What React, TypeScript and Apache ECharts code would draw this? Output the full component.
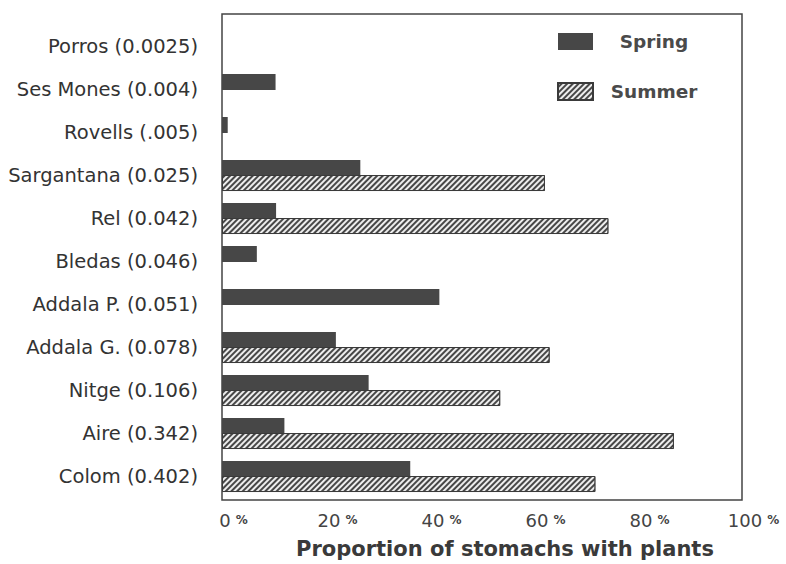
import React, { useEffect, useRef } from "react";
import * as echarts from "echarts";

const categories = [
  "Porros (0.0025)",
  "Ses Mones (0.004)",
  "Rovells (.005)",
  "Sargantana (0.025)",
  "Rel (0.042)",
  "Bledas (0.046)",
  "Addala P. (0.051)",
  "Addala G. (0.078)",
  "Nitge (0.106)",
  "Aire (0.342)",
  "Colom (0.402)",
];
const spring: (number | null)[] = [null, 10.3, 1.1, 26.6, 10.4, 6.7, 41.8, 21.9, 28.2, 12.0, 36.2];
const summer: (number | null)[] = [null, null, null, 62.1, 74.3, null, null, 63.0, 53.5, 86.9, 71.8];
const xTicks = [0, 20, 40, 60, 80, 100];
const seriesNames = ["Spring", "Summer"];
const xTitle = "Proportion of stomachs with plants";

const FONT = "DejaVu Sans";

export default function App() {
  const ref = useRef<HTMLDivElement>(null);
  useEffect(() => {
    document.body.style.margin = "0";
    const chart = echarts.init(ref.current!, null, { renderer: "svg" });
    const hatch = {
      symbol: "rect",
      symbolSize: 1,
      dashArrayX: [1, 0],
      dashArrayY: [1.5, 2],
      rotation: -Math.PI / 4,
      color: "rgba(255,255,255,0.9)",
    };
    chart.setOption({
      animation: false,
      backgroundColor: "#fff",
      textStyle: { fontFamily: FONT },
      grid: { left: 222, right: 44, top: 25, bottom: 54, containLabel: false },
      legend: {
        data: seriesNames,
        orient: "vertical",
        left: 557,
        top: 32,
        padding: 0,
        icon: "rect",
        itemWidth: 35,
        itemHeight: 17,
        itemGap: 31,
        selectedMode: false,
        formatter: "{a|{name}}",
        textStyle: {
          rich: {
            a: {
              width: 112,
              align: "center",
              fontSize: 18.5,
              fontWeight: "bold",
              color: "#4a4a4a",
              fontFamily: FONT,
              lineHeight: 17,
            },
          },
        },
      },
      xAxis: {
        type: "value",
        min: 0,
        max: 100,
        interval: 20,
        axisLine: { show: false },
        axisTick: { show: false },
        splitLine: { show: false },
        axisLabel: {
          margin: 13,
          formatter: (v: number) => (xTicks.includes(v) ? `{n|${v}}{p|%}` : ""),
          rich: {
            n: { fontSize: 18, color: "#444", fontFamily: FONT, padding: [0, 0, 0, 23] },
            p: { fontSize: 12, fontWeight: "bold", color: "#444", fontFamily: FONT, padding: [0, 0, 0, 5], verticalAlign: "middle" },
          },
        },
        name: xTitle,
        nameLocation: "middle",
        nameGap: 40,
        nameTextStyle: {
          fontSize: 21,
          fontWeight: "bold",
          color: "#3a3a3a",
          fontFamily: FONT,
          padding: [0, 0, 0, 46],
        },
      },
      yAxis: {
        type: "category",
        data: categories,
        inverse: true,
        axisLine: { show: false },
        axisTick: { show: false },
        splitLine: { show: false },
        axisLabel: { margin: 24, fontSize: 19.5, color: "#333", fontFamily: FONT },
      },
      series: [
        {
          name: seriesNames[0],
          type: "bar",
          data: spring,
          barWidth: 16,
          barGap: "-6%",
          itemStyle: { color: "#474747" },
        },
        {
          name: seriesNames[1],
          type: "bar",
          data: summer,
          barWidth: 16,
          itemStyle: { color: "#474747", borderColor: "#3a3a3a", borderWidth: 1, decal: hatch },
        },
      ],
      graphic: [
        {
          type: "rect",
          shape: { x: 222, y: 14, width: 520, height: 486 },
          style: { fill: "none", stroke: "#444", lineWidth: 1.5 },
          silent: true,
        },
      ],
    });
    return () => chart.dispose();
  }, []);
  return <div ref={ref} style={{ position: "fixed", left: 0, top: 0, width: 786, height: 564 }} />;
}
